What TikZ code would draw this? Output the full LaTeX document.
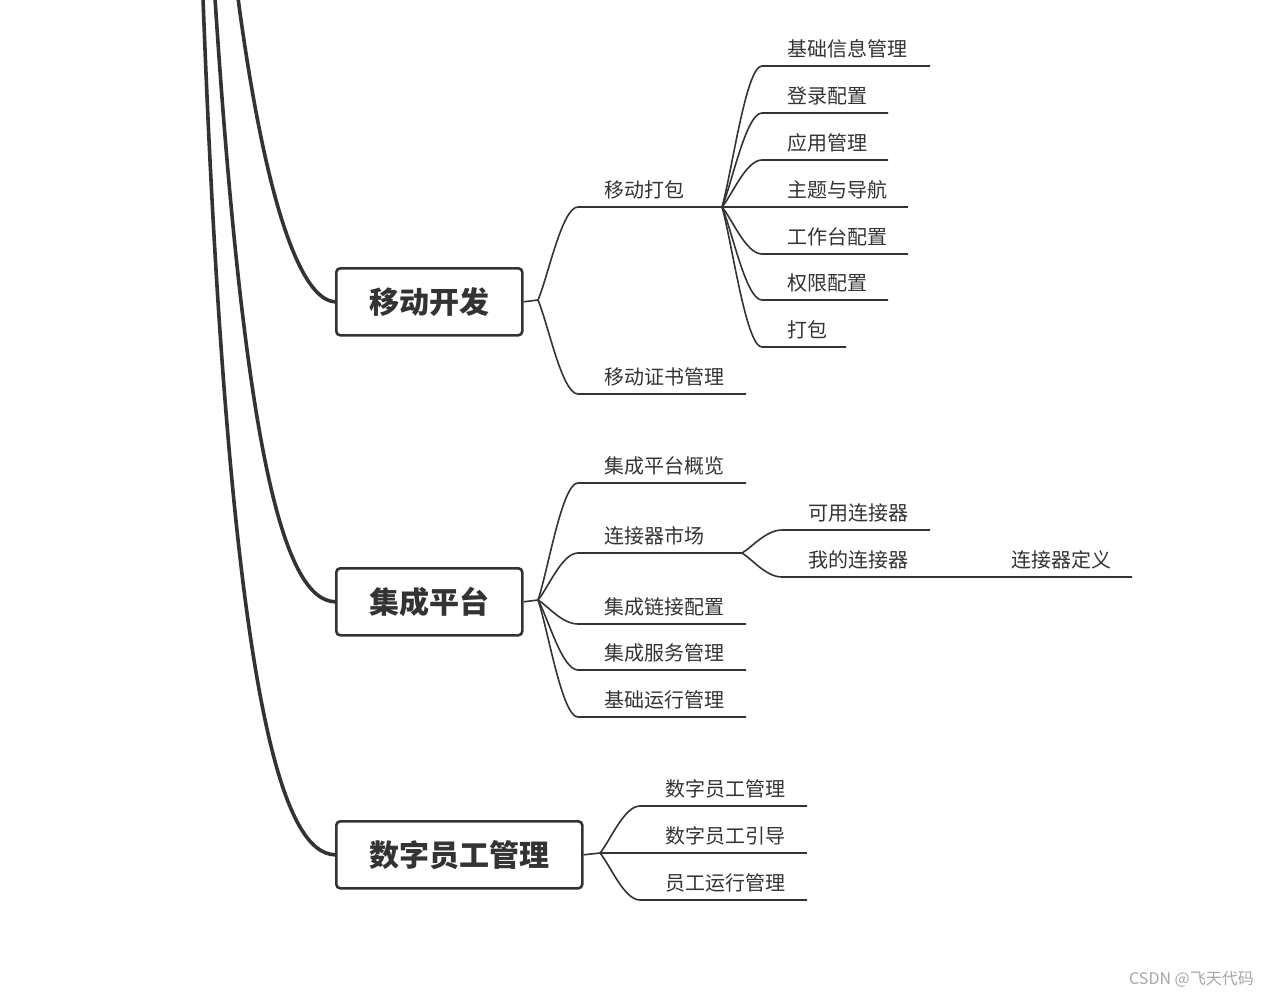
\documentclass[tikz,border=0pt]{standalone}
\usepackage{fontspec}
\usetikzlibrary{calc}
\setmainfont{Noto Sans CJK SC}
\definecolor{ln}{HTML}{333333}
\tikzset{
 lbl/.style={anchor=base west,inner sep=0pt,font=\fontsize{20}{22}\selectfont,text=ln},
 mainbox/.style={draw=ln,line width=2.6pt,rounded corners=4pt,anchor=north west,font=\fontsize{30}{32}\selectfont\bfseries,text=ln,inner sep=0pt},
 thin/.style={draw=ln,line width=1.6pt},
 thick/.style={draw=ln,line width=3.6pt},
}
\begin{document}
\begin{tikzpicture}[x=1pt,y=-1pt]
\useasboundingbox (0,0) rectangle (1270,996);
\node[mainbox,minimum width=186pt,minimum height=67pt] (b1) at (335,267) {移动开发};
\node[mainbox,minimum width=186pt,minimum height=67pt] (b2) at (335,567) {集成平台};
\node[mainbox,minimum width=246pt,minimum height=67pt] (b3) at (335,820) {数字员工管理};
\coordinate (t1) at (238,-2);
\coordinate (t2) at (215,-2);
\coordinate (t3) at (203,-2);
\draw[thick] (t1) .. controls (265,200) and (300,300) .. (b1.west);
\draw[thick] (t2) .. controls (245,460) and (285,600) .. (b2.west);
\draw[thick] (t3) .. controls (230,720) and (285,853) .. (b3.west);
\coordinate (h1) at (538,300);
\coordinate (h2) at (538,600);
\coordinate (h3) at (600,853);
\draw[thin] (b1.east) -- (h1);
\draw[thin] (b2.east) -- (h2);
\draw[thin] (b3.east) -- (h3);
\newcommand{\br}[8]{%
 \coordinate (#8s) at (#3,#4);
 \coordinate (#8e) at (#5,#4);
 \draw[thin] (#1) .. controls ($(#1)!0.25!(#8s)$) and (#2,#4) .. (#8s) -- (#8e);
 \node[lbl] (#8) at (#6,#4-10) {#7};
}
\br{h1}{562}{578}{207}{722}{604}{移动打包}{m1}
\br{h1}{562}{578}{394}{746}{604}{移动证书管理}{m2}
\coordinate (h4) at (722,207);
\br{h4}{746}{762}{66}{930}{787}{基础信息管理}{p1}
\br{h4}{746}{762}{113}{888}{787}{登录配置}{p2}
\br{h4}{746}{762}{160}{888}{787}{应用管理}{p3}
\draw[thin] (h4) -- (908,207);
\node[lbl] (p4) at (787,197) {主题与导航};
\br{h4}{746}{762}{254}{908}{787}{工作台配置}{p5}
\br{h4}{746}{762}{300}{888}{787}{权限配置}{p6}
\br{h4}{746}{762}{347}{846}{787}{打包}{p7}
\br{h2}{562}{578}{483}{746}{604}{集成平台概览}{i1}
\br{h2}{562}{578}{553}{742}{604}{连接器市场}{i2}
\br{h2}{562}{578}{624}{746}{604}{集成链接配置}{i3}
\br{h2}{562}{578}{670}{746}{604}{集成服务管理}{i4}
\br{h2}{562}{578}{717}{746}{604}{基础运行管理}{i5}
\coordinate (h5) at (742,553);
\br{h5}{766}{782}{530}{930}{808}{可用连接器}{c1}
\br{h5}{766}{782}{577}{1132}{808}{我的连接器}{c2}
\node[lbl] (c3) at (1011,567) {连接器定义};
\br{h3}{624}{640}{806}{807}{665}{数字员工管理}{d1}
\draw[thin] (h3) -- (807,853);
\node[lbl] (d2) at (665,843) {数字员工引导};
\br{h3}{624}{640}{900}{807}{665}{员工运行管理}{d3}
\node[anchor=base east,inner sep=0pt,font=\fontsize{16}{18}\selectfont,text=gray!70] (wm) at (1254,984) {CSDN @飞天代码};
\end{tikzpicture}
\end{document}
